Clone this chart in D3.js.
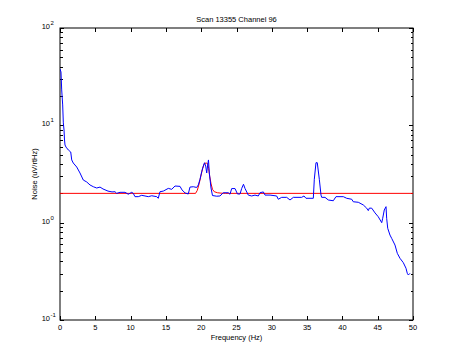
<!DOCTYPE html>
<html><head><meta charset="utf-8">
<script src="https://cdn.jsdelivr.net/npm/d3@7"></script>
<style>body{margin:0;background:#fff}svg{display:block}text{font-family:"Liberation Sans",Arial,sans-serif;fill:#000}</style>
</head><body><svg id="c" width="457" height="360"></svg>
<script>
const titleText = "Scan 13355 Channel 96";
const xLabel = "Frequency (Hz)";
const yLabel = "Noise (uV/rtHz)";
const xTicks = [0,5,10,15,20,25,30,35,40,45,50];
const yDecades = [-1,0,1,2];

const noiseFreq = [0,0.14,0.24,0.38,0.47,0.57,0.64,0.71,0.85,1.18,1.52,1.66,1.88,2.37,2.83,3.30,3.78,4.25,4.72,5.20,5.67,6.09,6.80,7.37,7.79,8.03,8.50,9.21,9.67,10.16,10.38,10.62,11.09,11.57,12.04,12.51,12.99,13.70,13.92,14.16,14.63,15.34,15.82,16.29,17.00,17.28,17.71,18.17,18.41,18.88,19.36,19.59,19.83,20.07,20.30,20.47,20.64,20.78,20.92,21.03,21.15,21.39,21.60,22.20,22.66,23.13,23.84,24.08,24.32,24.79,25.14,25.50,25.74,25.99,26.20,26.67,27.15,27.62,28.09,28.33,28.80,29.04,29.75,30.69,30.92,31.40,32.11,32.58,33.05,34.23,34.56,34.84,35.88,36.02,36.26,36.44,36.73,36.97,37.07,37.54,38.00,38.71,39.09,40.13,40.61,41.32,41.54,42.25,42.96,43.44,43.67,43.81,44.15,44.62,45.08,45.57,45.71,45.93,46.18,46.27,46.42,46.74,46.98,47.45,47.78,48.16,48.63,49.01,49.19,49.34,49.58];
const noiseVal = [38,35.3,23.1,16.2,10.6,8.95,7.07,6.28,5.98,5.58,5.32,4.41,4.10,3.73,3.24,2.74,2.62,2.44,2.34,2.27,2.32,2.22,2.11,2.07,2.08,2.00,2.05,2.05,1.96,2.05,2.00,1.85,1.85,1.91,1.88,1.85,1.89,1.85,1.78,2.08,2.11,2.25,2.20,2.38,2.36,2.17,2.02,1.97,2.32,2.34,2.30,2.44,2.79,3.34,3.82,4.13,3.82,3.24,3.91,4.41,3.24,2.27,1.90,1.87,1.88,2.03,2.03,1.96,2.24,2.24,1.97,1.97,2.25,2.48,2.25,1.92,1.88,1.92,1.88,2.03,2.07,1.92,1.92,1.88,1.74,1.82,1.82,1.71,1.82,1.82,1.88,1.78,1.78,2.79,4.13,4.13,2.79,1.92,1.82,1.82,1.71,1.68,1.85,1.85,1.78,1.74,1.64,1.62,1.52,1.41,1.33,1.41,1.41,1.26,1.15,1.00,1.11,1.35,1.46,1.11,0.875,0.746,0.690,0.589,0.484,0.430,0.388,0.340,0.302,0.290,0.302];

const fitFreq = [0,19.2,19.45,19.7,19.95,20.2,20.45,20.7,20.9,21.05,21.2,21.4,21.6,21.85,22.3,22.8,23.4,50];
const fitVal  = [2.0,2.0,2.15,2.5,3.0,3.6,4.05,4.1,4.05,3.6,3.0,2.5,2.2,2.08,2.03,2.01,2.0,2.0];

const svg = d3.select("#c");
const L=60, R=413, T=28, B=320;
const x = d3.scaleLinear().domain([0,50]).range([L,R]);
const y = d3.scaleLog().domain([0.1,100]).range([B,T]);

svg.append("rect").attr("x",L).attr("y",T).attr("width",R-L).attr("height",B-T)
  .attr("fill","none").attr("stroke","#000").attr("stroke-width",1);

const g = svg.append("g").attr("stroke","#000").attr("stroke-width",1).attr("shape-rendering","crispEdges");
xTicks.forEach(t=>{
  const px = Math.round(x(t))+0.5;
  g.append("line").attr("x1",px).attr("x2",px).attr("y1",B).attr("y2",B-4);
  g.append("line").attr("x1",px).attr("x2",px).attr("y1",T).attr("y2",T+4);
});
yDecades.forEach(d=>{
  const v = Math.pow(10,d);
  const py = Math.round(y(v))+0.5;
  g.append("line").attr("x1",L).attr("x2",L+4).attr("y1",py).attr("y2",py);
  g.append("line").attr("x1",R).attr("x2",R-4).attr("y1",py).attr("y2",py);
  if (d<2) for(let m=2;m<=9;m++){
    const pm = Math.round(y(m*v))+0.5;
    g.append("line").attr("x1",L).attr("x2",L+2.5).attr("y1",pm).attr("y2",pm);
    g.append("line").attr("x1",R).attr("x2",R-2.5).attr("y1",pm).attr("y2",pm);
  }
});

xTicks.forEach(t=>{
  svg.append("text").attr("x",x(t)).attr("y",B+10).attr("text-anchor","middle")
    .attr("font-size",7.5).text(t);
});
yDecades.forEach(d=>{
  const py = y(Math.pow(10,d));
  svg.append("text").attr("x",50).attr("y",py+1).attr("text-anchor","end").attr("font-size",7.5).text("10");
  svg.append("text").attr("x",50.5).attr("y",py-3).attr("text-anchor","start").attr("font-size",6).text(d);
});

svg.append("text").attr("x",(L+R)/2).attr("y",22).attr("text-anchor","middle").attr("font-size",7.5).text(titleText);
svg.append("text").attr("x",(L+R)/2).attr("y",340).attr("text-anchor","middle").attr("font-size",7.5).text(xLabel);
svg.append("text").attr("transform",`translate(37,${(T+B)/2}) rotate(-90)`).attr("text-anchor","middle").attr("font-size",7.5).text(yLabel);

svg.append("clipPath").attr("id","pc").append("rect").attr("x",L).attr("y",T).attr("width",R-L).attr("height",B-T);
const line = d3.line().x(d=>x(d[0])).y(d=>y(d[1]));
const blue = noiseFreq.map((f,i)=>[f,noiseVal[i]]);
const red = fitFreq.map((f,i)=>[f,fitVal[i]]);
svg.append("path").attr("d",line(red)).attr("fill","none").attr("stroke","#ff0000").attr("stroke-width",1).attr("clip-path","url(#pc)");
svg.append("path").attr("d",line(blue)).attr("fill","none").attr("stroke","#0000ff").attr("stroke-width",1).attr("clip-path","url(#pc)");
</script></body></html>
